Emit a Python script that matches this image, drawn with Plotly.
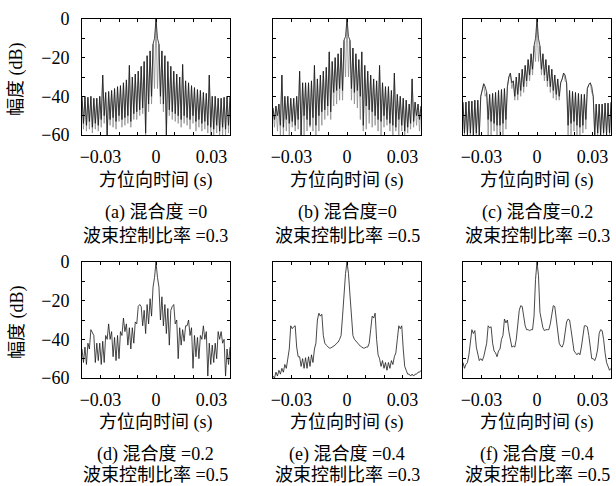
import numpy as np
import plotly.graph_objects as go

# ---------------- data (dB values) ----------------
# sample times (s): 101 samples, even samples = local maxima, odd samples = local minima
time_s = np.round(np.linspace(-0.04, 0.04, 101), 6)

xtick_vals = [-0.03, -0.02, -0.01, 0, 0.01, 0.02, 0.03]
xtick_text = ["\u22120.03", "", "", "0", "", "", "0.03"]
ytick_vals = [-60, -50, -40, -30, -20, -10, 0]
ytick_text = ["\u221260", "", "\u221240", "", "\u221220", "", "0"]

captions = [
    ("(a) 混合度 =0", "波束控制比率 =0.3"),
    ("(b) 混合度=0", "波束控制比率 =0.5"),
    ("(c) 混合度=0.2", "波束控制比率 =0.3"),
    ("(d) 混合度 =0.2", "波束控制比率 =0.5"),
    ("(e) 混合度 =0.4", "波束控制比率 =0.3"),
    ("(f) 混合度 =0.4", "波束控制比率 =0.5"),
]
x_title = "方位向时间 (s)"
y_title = "幅度 (dB)"

a_peaks = [-40, -40, -40.5, -40, -41, -41, -40, -29, -38, -37.5,
           -37, -36, -35, -34.5, -33, -31.5, -24, -30, -28.5, -27,
           -24.5, -22, -19, -16.5, -13, 0, -13, -16.5, -19, -22,
           -24.5, -27, -28.5, -30, -23.5, -32, -33, -34.5, -35.5, -36.5,
           -37, -38, -38.5, -29, -40, -40, -41, -41, -40.5, -40, -40]
a_troughs = [-54, -55, -53, -56, -54, -55, -52, -50, -60, -52,
             -51, -53, -50, -52, -51, -50, -53, -49, -48, -47,
             -46, -59, -44, -40, -10, -10, -40, -44, -60, -47,
             -48, -49, -50, -52, -50, -51, -52, -50, -53, -52,
             -54, -53, -55, -56, -57, -55, -58, -56, -57, -55]
a_troughs_gray = [-57, -58, -57, -59, -57, -58, -56, -54, -60, -55,
                  -56, -57, -53, -56, -55, -54, -56, -52, -52, -50,
                  -49, -60, -48, -44, -36, -36, -44, -48, -60, -50,
                  -52, -53, -54, -56, -54, -55, -57, -54, -58, -56,
                  -58, -57, -59, -60, -60, -59, -60, -60, -60, -59]

b_peaks = [-46, -45, -44, -29, -40, -40, -41, -41, -40, -27,
           -33, -33, -33, -32, -24, -31, -29, -27, -25, -17,
           -22, -20, -18, -15, -11, 0, -11, -15, -18, -21,
           -17, -24, -27, -29, -31, -32, -24, -33, -35, -35,
           -37, -28, -39, -40, -41, -42, -44, -31, -43, -44, -45]
b_troughs = [-52, -50, -55, -56, -52, -54, -53, -55, -52, -60,
             -50, -52, -55, -51, -55, -50, -48, -47, -45, -48,
             -38, -37, -36, -37, -9, -9, -36, -38, -37, -40,
             -55, -45, -47, -48, -50, -52, -53, -50, -52, -54,
             -55, -56, -52, -55, -58, -56, -54, -53, -50, -52]
b_troughs_gray = [-56, -58, -60, -60, -58, -60, -56, -58, -57, -60,
                  -60, -58, -56, -58, -60, -58, -55, -52, -50, -52,
                  -45, -44, -42, -42, -30, -30, -42, -44, -46, -52,
                  -58, -57, -54, -56, -55, -58, -60, -56, -55, -58,
                  -60, -58, -60, -58, -60, -59, -57, -56, -55, -58]

c_peaks = [-43, -43, -42.5, -42.5, -42, -42, -40, -33.5, -38, -39,
           -38.5, -38, -37, -36.5, -36, -35, -28, -32, -30, -28,
           -26, -24, -21, -18, -14, 0, -14, -18, -21, -24,
           -26, -29, -31, -33, -28, -33, -37, -37.5, -38, -38.5,
           -39, -39, -36, -33, -40, -44, -44, -44, -43.5, -43.5, -43]
c_troughs = [-59, -60, -59, -60, -59, -60, -36, -35, -52, -53,
             -54, -55, -55, -54, -52, -30, -33, -40, -39, -37,
             -35, -32, -29, -26, -10, -10, -26, -29, -32, -35,
             -37, -39, -40, -31, -29, -55, -54, -53, -55, -56,
             -55, -52, -34, -35, -60, -59, -60, -59, -60, -59]
c_troughs_gray = [-60, -60, -60, -60, -60, -60, -36, -40, -60, -60,
                  -58, -60, -60, -60, -57, -30, -36, -42, -42, -40,
                  -38, -35, -32, -29, -22, -22, -29, -32, -35, -38,
                  -41, -42, -42, -31, -32, -60, -60, -58, -60, -60,
                  -59, -57, -34, -38, -60, -60, -60, -60, -60, -60]

d_peaks = [-45, -44, -42, -35, -38, -42, -42, -41, -38, -32,
           -36, -39, -38, -36, -29, -32, -34, -34, -31, -23,
           -23, -25, -22, -19, -13, 0, -13, -18, -22, -24,
           -25, -22, -30, -34, -35, -33, -30, -34, -38, -39,
           -38, -33, -36, -42, -43, -42, -36, -36, -40, -45, -44]
d_troughs = [-52, -53, -45, -37, -52, -51, -53, -52, -40, -40,
             -49, -51, -50, -38, -36, -43, -45, -42, -32, -22,
             -33, -37, -32, -28, -8, -8, -30, -33, -37, -43,
             -23, -32, -50, -43, -41, -33, -38, -55, -49, -50,
             -40, -40, -59, -53, -52, -50, -40, -42, -59, -53]

e_peaks = [-59, -57, -56, -55, -53, -50, -33, -33.5, -44, -49,
           -50, -49.5, -49, -48, -45, -30, -28, -38, -43, -44.5,
           -44, -43, -41.5, -38, -15, 0, -17, -38, -41, -42.5,
           -44, -44.5, -44, -35, -29, -40, -50, -51, -52, -52,
           -51, -49, -40, -34.5, -45, -56, -58, -58, -58, -57, -56]
e_troughs = [-60, -59, -58, -57, -55, -45, -34.5, -33, -49, -54,
             -55, -55, -54, -52, -42, -26.5, -27, -42, -44, -44.5,
             -43.5, -42, -40, -28, -6, -6, -28, -40, -42, -43.5,
             -44.5, -44, -42, -28, -26.5, -48, -54, -55, -56, -55,
             -53, -47, -33, -33, -54, -58, -59, -59, -58, -57]

f_peaks = [-52, -53, -48, -35, -35.5, -47, -50, -49, -42, -34,
           -42, -47, -46, -40, -29.5, -30, -40, -43.5, -40, -25,
           -23, -33, -35, -35, -28, 0, -26, -34, -35, -35,
           -27, -23, -36, -43.5, -42, -31, -30, -42, -47, -47,
           -44, -33, -33.5, -46, -50, -49, -37, -35.5, -47, -54, -55]
f_troughs = [-55, -52, -40, -37, -44, -51, -51, -46, -33, -33.5,
             -46, -49, -45, -38, -31.5, -36, -44, -44, -33, -22.6,
             -28, -35, -35.5, -35, -9, -7, -30, -35.5, -35, -32,
             -22.6, -30, -42, -44, -37, -29.5, -35, -46, -48, -48,
             -38, -33, -38, -50, -51, -45, -35, -40, -52, -56]

panel_data = [
    (a_peaks, a_troughs, a_troughs_gray),
    (b_peaks, b_troughs, b_troughs_gray),
    (c_peaks, c_troughs, c_troughs_gray),
    (d_peaks, d_troughs, None),
    (e_peaks, e_troughs, None),
    (f_peaks, f_troughs, None),
]

# ---------------- layout ----------------
W, H = 616, 486
col_px = [(82, 230), (273, 421), (463, 611)]
row_px = [(19, 135), (262, 378)]
# vertical centres (px from top) of x-title, caption line 1, caption line 2 per row
text_rows_px = [(180, 213, 236), (422, 454, 475)]

FONT = "Liberation Serif, Noto Sans CJK SC, serif"
BLACK = "#1a1a1a"
GRAY = "#8e8e8e"


def series(peaks, troughs):
    s = np.empty(len(peaks) + len(troughs))
    s[0::2] = peaks
    s[1::2] = troughs
    return s


fig = go.Figure()
annotations = []

for i, (pk, tr, trg) in enumerate(panel_data):
    r, c = divmod(i, 3)
    ax = "" if i == 0 else str(i + 1)
    xref, yref = "x" + ax, "y" + ax
    if trg is not None:
        fig.add_trace(go.Scatter(x=time_s, y=series(pk, trg), mode="lines",
                                 line=dict(color=GRAY, width=0.8),
                                 xaxis=xref, yaxis=yref, hoverinfo="skip"))
    fig.add_trace(go.Scatter(x=time_s, y=series(pk, tr), mode="lines",
                             line=dict(color=BLACK, width=0.8),
                             xaxis=xref, yaxis=yref, hoverinfo="skip"))

    x0, x1 = col_px[c]
    y0, y1 = row_px[r]
    common = dict(showline=True, linecolor="black", linewidth=1, mirror="ticks",
                  ticks="inside", ticklen=3, tickwidth=1, tickcolor="black",
                  showgrid=False, zeroline=False, automargin=False,
                  tickfont=dict(family=FONT, size=18, color="black"))
    fig.layout["xaxis" + ax] = dict(
        domain=[x0 / W, x1 / W], range=[-0.04, 0.04], anchor=yref,
        tickmode="array", tickvals=xtick_vals, ticktext=xtick_text,
        ticklabelstandoff=5, **common)
    fig.layout["yaxis" + ax] = dict(
        domain=[1 - y1 / H, 1 - y0 / H], range=[-60, 0], anchor=xref,
        tickmode="array", tickvals=ytick_vals, ticktext=ytick_text,
        showticklabels=(c == 0), ticklabelstandoff=8, **common)

    cx = (x0 + x1) / 2 / W
    py_title, py_cap1, py_cap2 = text_rows_px[r]
    for txt, py in [(x_title, py_title), (captions[i][0], py_cap1),
                    (captions[i][1], py_cap2)]:
        annotations.append(dict(text=txt, x=cx, y=1 - py / H, xref="paper", yref="paper",
                                xanchor="center", yanchor="middle", showarrow=False,
                                font=dict(family=FONT, size=18, color="black")))
    if c == 0:
        annotations.append(dict(text=y_title, x=17 / W, y=1 - ((y0 + y1) / 2 + 2) / H,
                                xref="paper", yref="paper", textangle=-90,
                                xanchor="center", yanchor="middle", showarrow=False,
                                font=dict(family=FONT, size=18, color="black")))

fig.update_layout(width=W, height=H,
                  margin=dict(l=0, r=0, t=0, b=0, pad=0, autoexpand=False),
                  paper_bgcolor="white", plot_bgcolor="white",
                  showlegend=False, annotations=annotations)

fig.write_html("out.html", config={"displayModeBar": False},
               post_script="document.body.style.margin='0px';document.body.style.padding='0px';")
